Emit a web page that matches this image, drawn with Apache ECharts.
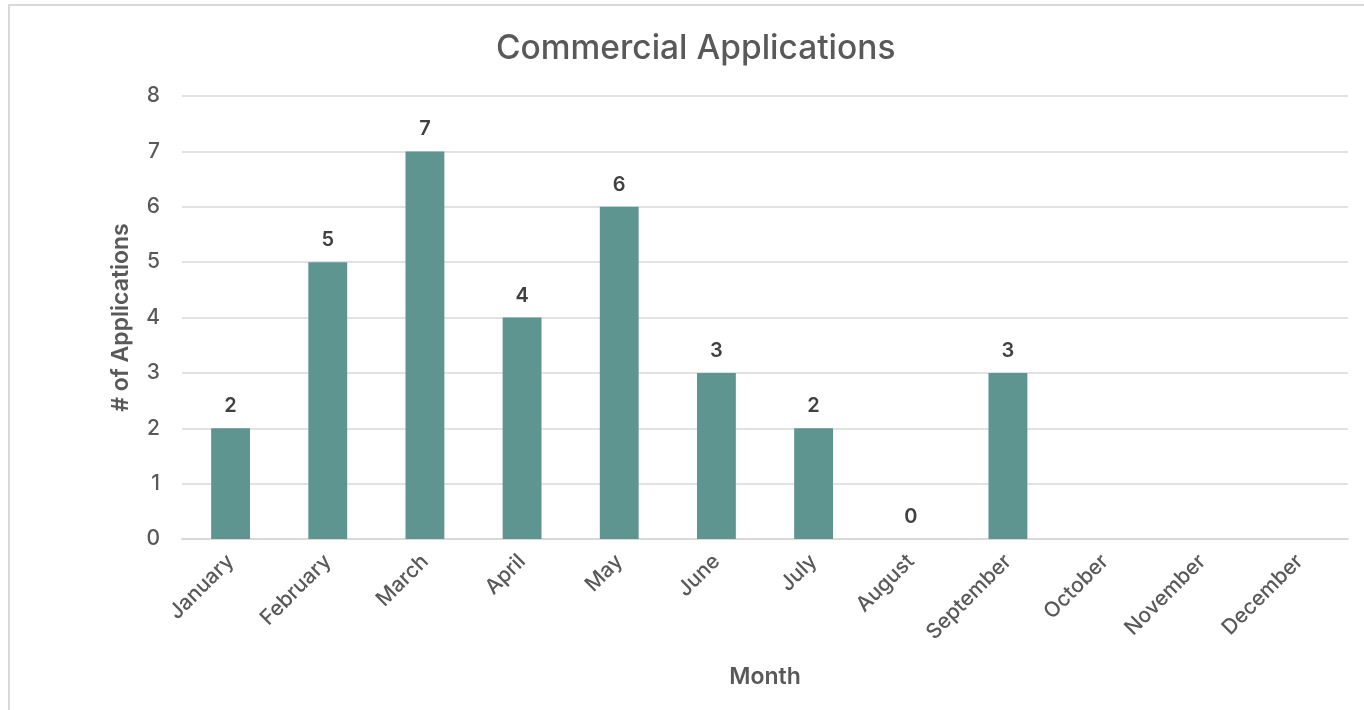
<!DOCTYPE html>
<html>
<head>
<meta charset="utf-8">
<script src="https://cdn.jsdelivr.net/npm/echarts@6/dist/echarts.min.js"></script>
<style>
html,body{margin:0;padding:0;background:#fff;overflow:hidden;}
#chart{width:1364px;height:710px;}
</style>
</head>
<body>
<div id="chart"></div>
<script>
const months = ["January","February","March","April","May","June","July","August","September","October","November","December"];
const applications = [2,5,7,4,6,3,2,0,3,null,null,null];
const yTicks = {min:0, max:8, interval:1};

const chart = echarts.init(document.getElementById('chart'));
const font = 'Inter, "Open Sans", "Liberation Sans", Arial, sans-serif';
chart.setOption({
  backgroundColor:'#ffffff',
  animation:false,
  graphic:[{type:'rect',shape:{x:9,y:5,width:1400,height:800},style:{fill:'none',stroke:'#d9d9d9',lineWidth:2},silent:true}],
  title:{text:'Commercial Applications',left:491,top:27,
    textStyle:{fontFamily:font,fontSize:33.5,fontWeight:500,color:'#595959'}},
  grid:{left:182,right:16,top:96,bottom:171},
  xAxis:{type:'category',data:months,
    name:'Month',nameLocation:'middle',nameGap:127,
    nameTextStyle:{fontFamily:font,fontSize:23,fontWeight:600,color:'#595959'},
    axisLine:{lineStyle:{color:'#d9d9d9',width:2}},axisTick:{show:false},
    axisLabel:{rotate:45,fontFamily:font,fontSize:21,fontWeight:500,color:'#595959',margin:19,interval:0}},
  yAxis:{type:'value',min:yTicks.min,max:yTicks.max,interval:yTicks.interval,
    name:'# of Applications',nameLocation:'middle',nameGap:49,nameRotate:90,
    nameTextStyle:{fontFamily:font,fontSize:23,fontWeight:600,color:'#595959'},
    axisLine:{show:false},axisTick:{show:false},
    splitLine:{lineStyle:{color:'#d9d9d9',width:1.5}},
    axisLabel:{fontFamily:font,fontSize:21,fontWeight:500,color:'#595959',margin:22}},
  series:[{type:'bar',data:applications,barWidth:'40%',
    itemStyle:{color:'#5f9591'},
    label:{show:true,position:'top',distance:12,fontFamily:font,fontSize:20,fontWeight:600,color:'#404040'}}]
});
</script>
</body>
</html>
